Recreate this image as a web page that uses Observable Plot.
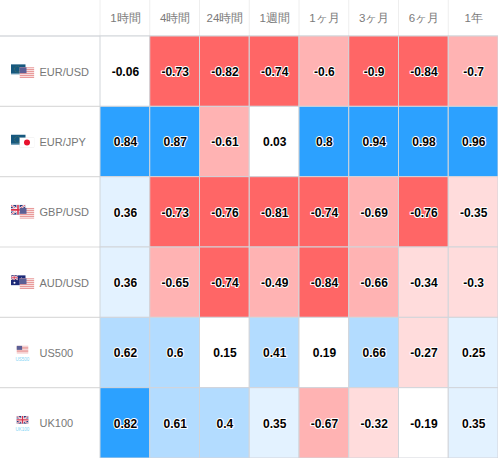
<!DOCTYPE html>
<html><head><meta charset="utf-8">
<style>html,body{margin:0;padding:0;background:#fff}svg{display:block}</style>
<script src="https://cdn.jsdelivr.net/npm/d3@7"></script>
<script src="https://cdn.jsdelivr.net/npm/@observablehq/plot@0.6"></script>
</head><body><div id="chart"></div>
<script>
const periods = ["1時間","4時間","24時間","1週間","1ヶ月","3ヶ月","6ヶ月","1年"];
const instruments = ["EUR/USD","EUR/JPY","GBP/USD","AUD/USD","US500","UK100"];
const eurusd = [-0.06,-0.73,-0.82,-0.74,-0.6,-0.9,-0.84,-0.7];
const eurjpy = [0.84,0.87,-0.61,0.03,0.8,0.94,0.98,0.96];
const gbpusd = [0.36,-0.73,-0.76,-0.81,-0.74,-0.69,-0.76,-0.35];
const audusd = [0.36,-0.65,-0.74,-0.49,-0.84,-0.66,-0.34,-0.3];
const us500 = [0.62,0.6,0.15,0.41,0.19,0.66,-0.27,0.25];
const uk100 = [0.82,0.61,0.4,0.35,-0.67,-0.32,-0.19,0.35];
const series = [eurusd,eurjpy,gbpusd,audusd,us500,uk100];
const thresholds = [-0.71,-0.4,-0.2,0.2,0.4,0.7];
const palette = ["#ff6666","#ffb3b3","#ffdcdc","#ffffff","#e3f2ff","#b3dcff","#2ca1ff"];
const cells = series.flatMap((vals,i)=>vals.map((value,j)=>({row:instruments[i],col:periods[j],value})));

const eu = `<rect width="15" height="10" fill="#16587f"/><rect y="9" width="15" height="1" fill="#6f9db8"/><circle cx="7" cy="5" r="3" fill="none" stroke="#7d8a3a" stroke-width=".6" stroke-dasharray=".7 .9"/>`;
const us = (x,y,w,h)=>{let s=`<svg x="${x}" y="${y}" width="${w}" height="${h}" viewBox="0 0 15 11" preserveAspectRatio="none"><rect width="15" height="11" fill="#fbeeee"/>`;
  for(let k=0;k<6;k++) s+=`<rect y="${k*2}" width="15" height="1" fill="#e58b8b"/>`;
  return s+`<rect width="7" height="6" fill="#5c5f95"/></svg>`;};
const jp = `<svg x="9" y="3" width="15" height="10" viewBox="0 0 15 10"><rect width="15" height="10" fill="#fff" stroke="#ddd" stroke-width=".6"/><circle cx="7.5" cy="5" r="3" fill="#e8112d"/></svg>`;
const ukf = (x,y,w,h)=>`<svg x="${x}" y="${y}" width="${w}" height="${h}" viewBox="0 0 15 10" preserveAspectRatio="none"><rect width="15" height="10" fill="#2a3a7c"/><path d="M0 0L15 10M15 0L0 10" stroke="#fff" stroke-width="2"/><path d="M0 0L15 10M15 0L0 10" stroke="#d8304a" stroke-width=".7"/><path d="M7.5 0V10M0 5H15" stroke="#fff" stroke-width="3.2"/><path d="M7.5 0V10M0 5H15" stroke="#d8304a" stroke-width="1.6"/></svg>`;
const au = `<rect width="15" height="10" fill="#1d2a78"/><svg width="7.5" height="5" viewBox="0 0 15 10">${ukf(0,0,15,10)}</svg><circle cx="4" cy="7.5" r="1" fill="#fff"/><circle cx="11" cy="3" r=".7" fill="#fff"/><circle cx="12.5" cy="6" r=".7" fill="#fff"/>`;
const wrap = s=>"data:image/svg+xml;charset=utf-8,"+encodeURIComponent(`<svg xmlns="http://www.w3.org/2000/svg" width="24" height="14" viewBox="0 0 24 14">${s}</svg>`);
const flagImages = [
  wrap(eu+us(9,3,15,11)), wrap(eu+jp), wrap(ukf(0,0,15,10)+us(9,3,15,11)), wrap(au+us(9,3,15,11)),
  wrap(us(6,0,12,8)), wrap(ukf(6,0,12,8))
];
const flagRows = instruments.map((row,i)=>({row,src:flagImages[i]}));
const indexRows = [{row:"US500"},{row:"UK100"}];

const gridLines = (index,{x,y},values,{width,height,marginTop,marginLeft})=>{
  const g = d3.create("svg:g");
  periods.forEach(c=>{ g.append("line").attr("x1",x(c)).attr("x2",x(c)).attr("y1",0).attr("y2",marginTop).attr("stroke","#eeeeee"); });
  instruments.forEach(r=>{ g.append("line").attr("x1",0).attr("x2",marginLeft).attr("y1",y(r)).attr("y2",y(r)).attr("stroke","#dcdcdc").attr("stroke-width",1.2); });
  g.append("line").attr("x1",0).attr("x2",width).attr("y1",marginTop).attr("y2",marginTop).attr("stroke","#d6d9e0").attr("stroke-width",1.2);
  return g.node();
};

const plot = Plot.plot({
  width:498,height:458,marginTop:36,marginLeft:100,marginRight:0,marginBottom:0,
  style:{fontFamily:"'Liberation Sans',Arial,sans-serif",background:"#fff"},
  x:{type:"band",domain:periods,padding:0,round:false,label:null},
  y:{type:"band",domain:instruments,padding:0,round:false,label:null,axis:null},
  color:{type:"threshold",domain:thresholds,range:palette},
  marks:[
    gridLines,
    Plot.cell(cells,{x:"col",y:"row",fill:"value",stroke:"#d2d5da",strokeWidth:1}),
    Plot.axisX({anchor:"top",tickSize:0,tickPadding:15,label:null,fontSize:11.5,color:"#7a7a7a"}),
    Plot.text(cells,{x:"col",y:"row",text:d=>String(d.value),dy:0.5,fontSize:12,fontWeight:"bold",fill:"#000",stroke:"#fff",strokeWidth:2}),
    Plot.text(instruments,{y:d=>d,text:d=>d,frameAnchor:"left",dx:-61,dy:0.5,textAnchor:"start",fontSize:11,fill:"#777777"}),
    Plot.image(flagRows,{y:"row",src:"src",frameAnchor:"left",dx:-78,dy:-0.5,width:24,height:14}),
    Plot.text(indexRows,{y:"row",text:"row",frameAnchor:"left",dx:-85,dy:6.5,fontSize:4.5,fill:"#7fd4f5",textAnchor:"start"})
  ]
});
document.getElementById("chart").append(plot);
</script></body></html>
